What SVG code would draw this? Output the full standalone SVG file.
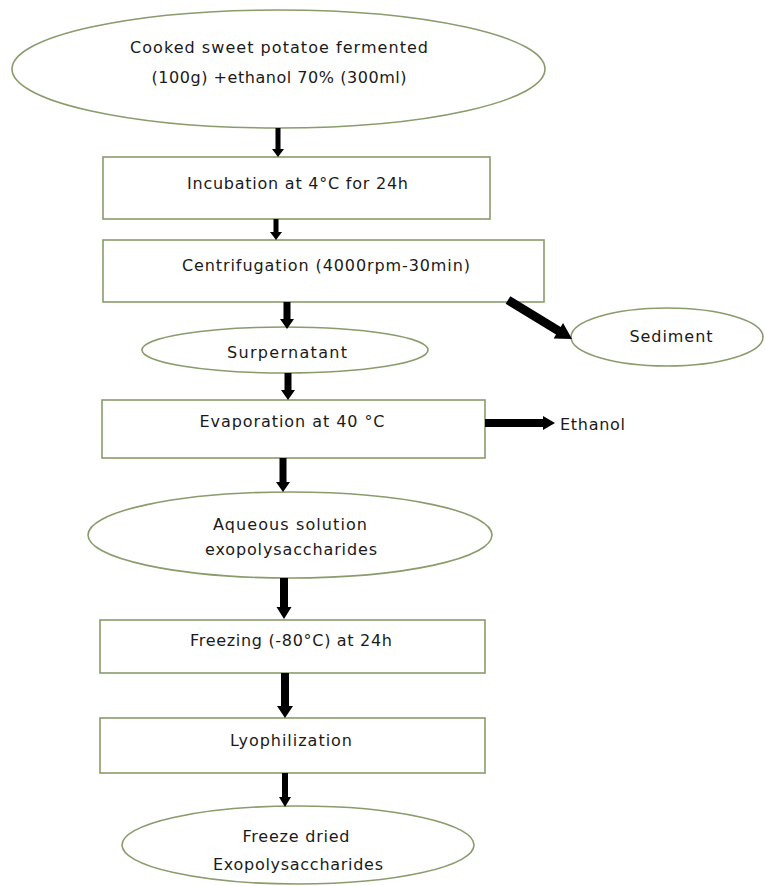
<svg xmlns="http://www.w3.org/2000/svg" width="765" height="886" viewBox="0 0 765 886">
<style>
.node{fill:#ffffff;stroke:#8a9b6c;stroke-width:1.6}
.lbl{font-family:"DejaVu Sans","Liberation Sans",sans-serif;font-size:16px;fill:#1a1a1a;text-anchor:middle}
.arrow{fill:#000000}
</style>
<rect width="765" height="886" fill="#ffffff"/>
<g id="start">
<ellipse class="node" cx="278.5" cy="69" rx="266.5" ry="59"/>
<text class="lbl" x="279" y="53" textLength="298">Cooked sweet potatoe fermented</text>
<text class="lbl" x="279" y="83" textLength="255">(100g) +ethanol 70% (300ml)</text>
</g>
<g id="incubation">
<rect class="node" x="103" y="157" width="387" height="62"/>
<text class="lbl" x="297.5" y="189" textLength="221">Incubation at 4°C for 24h</text>
</g>
<g id="centrifugation">
<rect class="node" x="103" y="240" width="441" height="62"/>
<text class="lbl" x="326" y="271" textLength="288">Centrifugation (4000rpm-30min)</text>
</g>
<g id="supernatant">
<ellipse class="node" cx="285" cy="350" rx="143" ry="23"/>
<text class="lbl" x="287" y="358" textLength="120">Surpernatant</text>
</g>
<g id="sediment">
<ellipse class="node" cx="667" cy="337" rx="96" ry="29"/>
<text class="lbl" x="671" y="342" textLength="83">Sediment</text>
</g>
<g id="evaporation">
<rect class="node" x="102" y="400" width="383" height="58"/>
<text class="lbl" x="292" y="427" textLength="185">Evaporation at 40 °C</text>
</g>
<g id="ethanol">
<text class="lbl" x="592.5" y="430" textLength="65">Ethanol</text>
</g>
<g id="aqueous">
<ellipse class="node" cx="290" cy="535" rx="202" ry="43"/>
<text class="lbl" x="290" y="530" textLength="154">Aqueous solution</text>
<text class="lbl" x="291" y="555" textLength="172">exopolysaccharides</text>
</g>
<g id="freezing">
<rect class="node" x="100" y="620" width="385" height="53"/>
<text class="lbl" x="291" y="646" textLength="202">Freezing (-80°C) at 24h</text>
</g>
<g id="lyophilization">
<rect class="node" x="100" y="718" width="385" height="55"/>
<text class="lbl" x="291" y="746" textLength="122">Lyophilization</text>
</g>
<g id="product">
<ellipse class="node" cx="298" cy="845" rx="176" ry="39"/>
<text class="lbl" x="296" y="842" textLength="107">Freeze dried</text>
<text class="lbl" x="298" y="870" textLength="170">Exopolysaccharides</text>
</g>
<g id="connectors">
<polygon class="arrow" points="275.5,128 280.5,128 280.5,149 284,149 278,157 272,149 275.5,149"/>
<polygon class="arrow" points="273.5,219 278.5,219 278.5,232 282,232 276,240 270,232 273.5,232"/>
<polygon class="arrow" points="283.5,302 290.5,302 290.5,319 294,319 287,329 280,319 283.5,319"/>
<polygon class="arrow" points="284.5,373 291.5,373 291.5,390 295,390 288,400 281,390 284.5,390"/>
<polygon class="arrow" points="279.5,458 286.5,458 286.5,482 290,482 283,492 276,482 279.5,482"/>
<polygon class="arrow" points="280,578 288,578 288,607 291.5,607 284,619 276.5,607 280,607"/>
<polygon class="arrow" points="281,673 289,673 289,706 293,706 285,718 277,706 281,706"/>
<polygon class="arrow" points="282,773 288,773 288,797 291,797 285,807 279,797 282,797"/>
<polygon class="arrow" points="485,419 543,419 543,416 555,423 543,430 543,427 485,427"/>
<polygon class="arrow" transform="translate(508,300) rotate(31.4)" points="0,-4.5 59,-4.5 59,-9 75,0 59,9 59,4.5 0,4.5"/>
</g>
</svg>
